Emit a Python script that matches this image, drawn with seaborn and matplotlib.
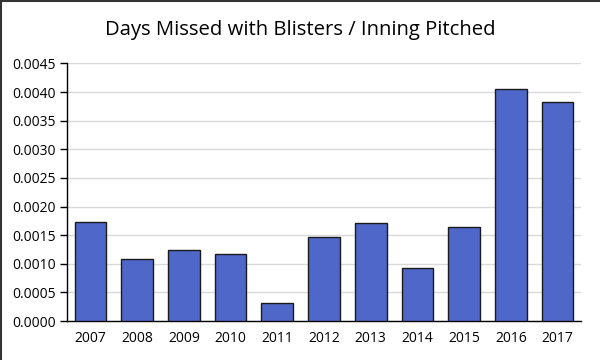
import matplotlib
matplotlib.use("Agg")
import matplotlib.pyplot as plt
import matplotlib.ticker as mticker
import seaborn as sns
import pandas as pd

# values
years = ["2007", "2008", "2009", "2010", "2011", "2012",
         "2013", "2014", "2015", "2016", "2017"]
days_per_inning = [0.00173, 0.00108, 0.00125, 0.00118, 0.00031, 0.00146,
                   0.00172, 0.00092, 0.00164, 0.00405, 0.00382]
y_ticks = [0.0, 0.0005, 0.0010, 0.0015, 0.0020, 0.0025,
           0.0030, 0.0035, 0.0040, 0.0045]

df = pd.DataFrame({"year": years, "value": days_per_inning})

sns.set_style("white")
plt.rcParams["font.family"] = ["Open Sans", "DejaVu Sans"]

fig = plt.figure(figsize=(6, 3.6), dpi=100)
ax = fig.add_axes([0.112, 0.108, 0.856, 0.716])

sns.barplot(data=df, x="year", y="value", color="#4F67C8", saturation=1,
            width=0.68, edgecolor="#1a1a1a", linewidth=1, ax=ax, zorder=3)

ax.set_ylim(0, 0.0045)
ax.set_yticks(y_ticks)
ax.yaxis.set_major_formatter(mticker.FormatStrFormatter("%.4f"))
ax.set_xlim(-0.5, len(years) - 0.5)
ax.grid(axis="y", color="#D9D9D9", linewidth=1, zorder=0)
ax.set_xlabel("")
ax.set_ylabel("")

# x ticks sit on category boundaries
ax.set_xticks([i - 0.5 for i in range(len(years) + 1)], minor=True)
ax.tick_params(axis="x", which="major", length=0, pad=7, labelsize=10,
               labelcolor="black")
ax.tick_params(axis="x", which="minor", length=5, width=1, color="black", direction="out")
ax.tick_params(axis="y", length=5, width=1, color="black", direction="out",
               left=True, labelsize=10, pad=3, labelcolor="black")

for side in ["top", "right"]:
    ax.spines[side].set_visible(False)
for side in ["left", "bottom"]:
    ax.spines[side].set_color("black")
    ax.spines[side].set_linewidth(1)

fig.text(0.5, 0.918, "Days Missed with Blisters / Inning Pitched",
         ha="center", va="center", fontsize=14.6, color="black")

# dark frame along top and left edges of the image
fig.add_artist(plt.Line2D([0.001, 0.001], [0, 1], transform=fig.transFigure,
                          color="#333333", linewidth=1.5))
fig.add_artist(plt.Line2D([0, 1], [0.998, 0.998], transform=fig.transFigure,
                          color="#333333", linewidth=1.5))

fig.savefig("out.png", dpi=100)
